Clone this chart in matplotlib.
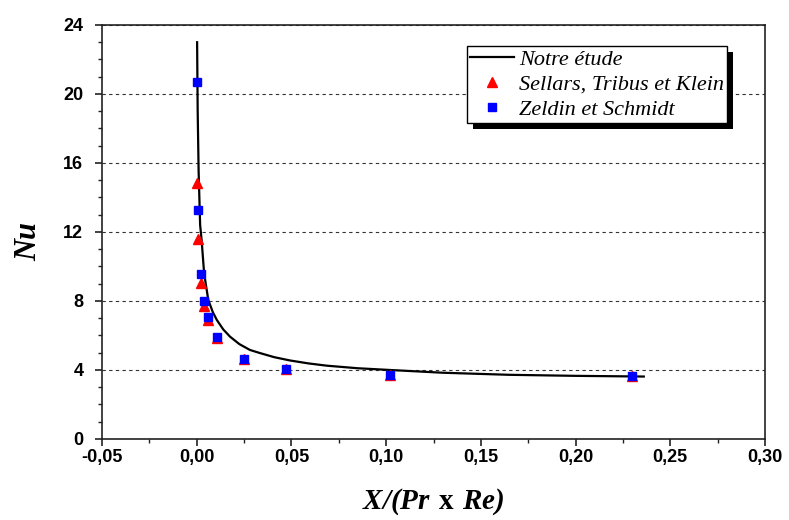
import matplotlib
matplotlib.use('Agg')
import matplotlib.pyplot as plt
from matplotlib.patches import Rectangle
from matplotlib.ticker import MultipleLocator, FuncFormatter
from matplotlib.transforms import IdentityTransform

plt.rcParams['mathtext.fontset'] = 'custom'
plt.rcParams['mathtext.bfit'] = 'Liberation Serif:bold:italic'
plt.rcParams['mathtext.bf'] = 'Liberation Serif:bold'
plt.rcParams['mathtext.rm'] = 'Liberation Serif'


# Notre etude (courbe continue)
curve_x = [0.0002, 0.0005, 0.0010, 0.0018, 0.0026, 0.0039, 0.0061, 0.0085,
           0.0106, 0.0140, 0.0176, 0.0225, 0.0281, 0.0334, 0.0410, 0.0493,
           0.0590, 0.0686, 0.0850, 0.102, 0.130, 0.165, 0.200, 0.236]
curve_y = [23.0, 19.0, 15.5, 12.4, 11.5, 9.6, 8.06, 7.35,
           6.9, 6.35, 5.93, 5.50, 5.16, 4.98, 4.74, 4.55,
           4.38, 4.25, 4.10, 4.00, 3.84, 3.72, 3.66, 3.62]

# Sellars, Tribus et Klein
stk_x = [0.0003, 0.0009, 0.0023, 0.0039, 0.0061, 0.0106, 0.025, 0.047, 0.102, 0.230]
stk_y = [14.86, 11.6, 9.05, 7.72, 6.9, 5.85, 4.62, 4.03, 3.72, 3.66]

# Zeldin et Schmidt
zs_x = [0.0003, 0.0009, 0.0023, 0.0039, 0.0061, 0.0106, 0.025, 0.047, 0.102, 0.230]
zs_y = [20.7, 13.3, 9.58, 8.02, 7.05, 5.92, 4.64, 4.04, 3.72, 3.65]


def comma(v, pos):
    return f'{v:.2f}'.replace('.', ',')


fig = plt.figure(figsize=(7.89, 5.2), dpi=100)
ax = fig.add_axes([0.1293, 0.1558, 0.8403, 0.7962])

ax.plot(curve_x, curve_y, 'k-', lw=1.6, label='Notre étude', zorder=3)
ax.plot(stk_x, stk_y, '^', color='#ff0000', ms=7, mec='#ff0000', ls='none',
        label='Sellars, Tribus et Klein', zorder=4)
ax.plot(zs_x, zs_y, 's', color='#0000ff', ms=6, mec='#0000ff', ls='none',
        label='Zeldin et Schmidt', zorder=5)

ax.set_xlim(-0.05, 0.30)
ax.set_ylim(0, 24)
ax.xaxis.set_major_locator(MultipleLocator(0.05))
ax.xaxis.set_minor_locator(MultipleLocator(0.025))
ax.yaxis.set_major_locator(MultipleLocator(4))
ax.yaxis.set_minor_locator(MultipleLocator(1))
ax.xaxis.set_major_formatter(FuncFormatter(comma))

for s in ax.spines.values():
    s.set_linewidth(1.2)
    s.set_color('#222222')

ax.tick_params(which='major', direction='out', length=5, width=1.2, color='#222222')
ax.tick_params(which='minor', direction='out', length=3, width=1.0, color='#222222')
ax.tick_params(axis='y', which='major', pad=8.5)
ax.tick_params(axis='x', which='major', pad=2.5)
for lab in ax.get_xticklabels() + ax.get_yticklabels():
    lab.set_family('Liberation Sans')
    lab.set_fontweight('bold')
    lab.set_fontsize(13)

ax.yaxis.grid(True, which='major', ls=(0, (3, 3)), color='#333333', lw=0.8)
ax.set_axisbelow(True)

ax.set_xlabel(r'$\mathbfit{X/(Pr}\ \mathbf{x}\ \mathbfit{Re)}$', fontsize=21)
ax.set_ylabel('Nu', family='Liberation Serif', style='italic',
              fontweight='bold', fontsize=22)
ax.xaxis.set_label_coords(0.5, -0.115)
ax.yaxis.set_label_coords(-0.089, 0.476)

leg = ax.legend(loc='upper left', bbox_to_anchor=(0.55, 0.949), fancybox=False,
                framealpha=1, edgecolor='black', handlelength=2.0,
                handletextpad=0.2, labelspacing=0.2, borderpad=0.14,
                borderaxespad=0,
                prop={'family': 'Liberation Serif', 'style': 'italic', 'size': 16})
leg.get_frame().set_linewidth(1.0)
leg.set_zorder(10)

# black drop shadow behind the legend box
fig.canvas.draw()
bb = leg.get_window_extent()
shadow = Rectangle((bb.x0 + 6, bb.y0 - 6), bb.width, bb.height,
                   transform=IdentityTransform(), facecolor='black',
                   edgecolor='none', zorder=9, clip_on=False)
ax.add_artist(shadow)

fig.savefig('out.png', dpi=100)
